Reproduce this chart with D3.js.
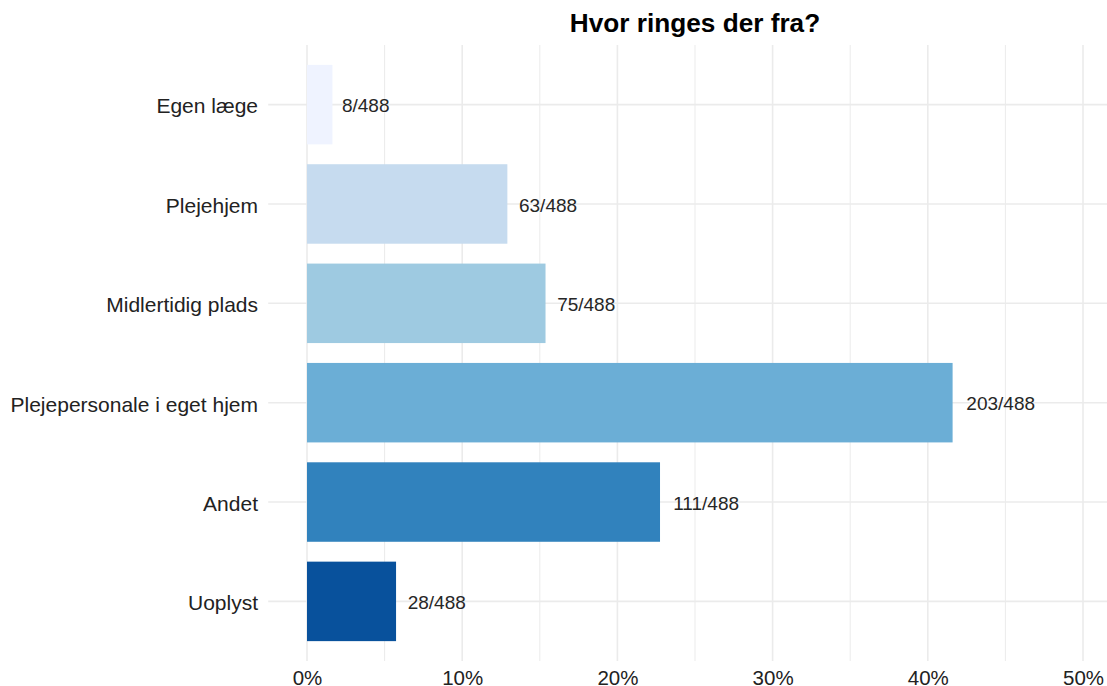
<!DOCTYPE html>
<html>
<head>
<meta charset="utf-8">
<script src="https://cdn.jsdelivr.net/npm/d3@7"></script>
<style>
  html, body { margin: 0; padding: 0; background: #fff; }
  svg { display: block; font-family: "Liberation Sans", Arial, sans-serif; }
</style>
</head>
<body>
<svg id="visu" width="1107" height="686"></svg>
<script>
// data
var categories = ["Egen læge", "Plejehjem", "Midlertidig plads", "Plejepersonale i eget hjem", "Andet", "Uoplyst"];
var counts = [8, 63, 75, 203, 111, 28];
var total = 488;
var barColors = ["#EFF3FF", "#C6DBEF", "#9ECAE1", "#6BAED6", "#3182BD", "#08519C"];
var xTicks = [0, 0.1, 0.2, 0.3, 0.4, 0.5];
var xMinor = [0.05, 0.15, 0.25, 0.35, 0.45];

var vis = d3.select("#visu"),
    PANEL = { left: 268.2, right: 1121.8, top: 45, bottom: 661 },
    xScale = d3.scaleLinear()
      .domain([-0.025, 0.525])
      .range([PANEL.left, PANEL.right]),
    yScale = d3.scaleBand()
      .domain(categories)
      .range([PANEL.top, PANEL.bottom])
      .paddingInner(0.2)
      .paddingOuter(0.2);

var data = categories.map(function(c, i) {
  return { cat: c, n: counts[i], p: counts[i] / total, color: barColors[i] };
});

// grid
var grid = vis.append("g");
grid.selectAll(".minor").data(xMinor).enter().append("line")
  .attr("x1", function(d) { return xScale(d); })
  .attr("x2", function(d) { return xScale(d); })
  .attr("y1", PANEL.top).attr("y2", PANEL.bottom)
  .attr("stroke", "#EBEBEB").attr("stroke-width", 1);
grid.selectAll(".major").data(xTicks).enter().append("line")
  .attr("x1", function(d) { return xScale(d); })
  .attr("x2", function(d) { return xScale(d); })
  .attr("y1", PANEL.top).attr("y2", PANEL.bottom)
  .attr("stroke", "#EBEBEB").attr("stroke-width", 1.6);
grid.selectAll(".hline").data(categories).enter().append("line")
  .attr("x1", PANEL.left).attr("x2", PANEL.right)
  .attr("y1", function(d) { return yScale(d) + yScale.bandwidth() / 2; })
  .attr("y2", function(d) { return yScale(d) + yScale.bandwidth() / 2; })
  .attr("stroke", "#EBEBEB").attr("stroke-width", 1.6);

// bars
vis.append("g").selectAll("rect").data(data).enter().append("rect")
  .attr("x", xScale(0))
  .attr("y", function(d) { return yScale(d.cat); })
  .attr("width", function(d) { return xScale(d.p) - xScale(0); })
  .attr("height", yScale.bandwidth())
  .attr("fill", function(d) { return d.color; });

// bar labels (hjust about -0.2)
vis.append("g").selectAll("text").data(data).enter().append("text")
  .attr("y", function(d) { return yScale(d.cat) + yScale.bandwidth() / 2; })
  .attr("dy", "0.4em")
  .attr("font-size", 19)
  .attr("fill", "#262626")
  .text(function(d) { return d.n + "/" + total; })
  .attr("x", function(d) {
    return xScale(d.p) + 0.2 * this.getComputedTextLength();
  });

// axes
var xAxis = d3.axisBottom(xScale).tickValues(xTicks).tickFormat(d3.format(".0%")).tickSize(0).tickPadding(0);
var gx = vis.append("g")
  .attr("transform", "translate(0,670)")
  .call(xAxis);
gx.select(".domain").remove();
gx.selectAll("text").attr("font-size", 20.5).attr("fill", "#222").attr("dy", "0.72em")
  .attr("font-family", "Liberation Sans, Arial, sans-serif");

var yAxis = d3.axisLeft(yScale).tickSize(0).tickPadding(0);
var gy = vis.append("g")
  .attr("transform", "translate(258,0)")
  .call(yAxis);
gy.select(".domain").remove();
gy.selectAll("text").attr("font-size", 21).attr("fill", "#222").attr("dy", "0.42em")
  .attr("font-family", "Liberation Sans, Arial, sans-serif");

// title
vis.append("text")
  .attr("x", (PANEL.left + PANEL.right) / 2)
  .attr("y", 32)
  .attr("text-anchor", "middle")
  .attr("font-size", 26.2)
  .attr("font-weight", "bold")
  .attr("fill", "#000")
  .text("Hvor ringes der fra?");
</script>
</body>
</html>
